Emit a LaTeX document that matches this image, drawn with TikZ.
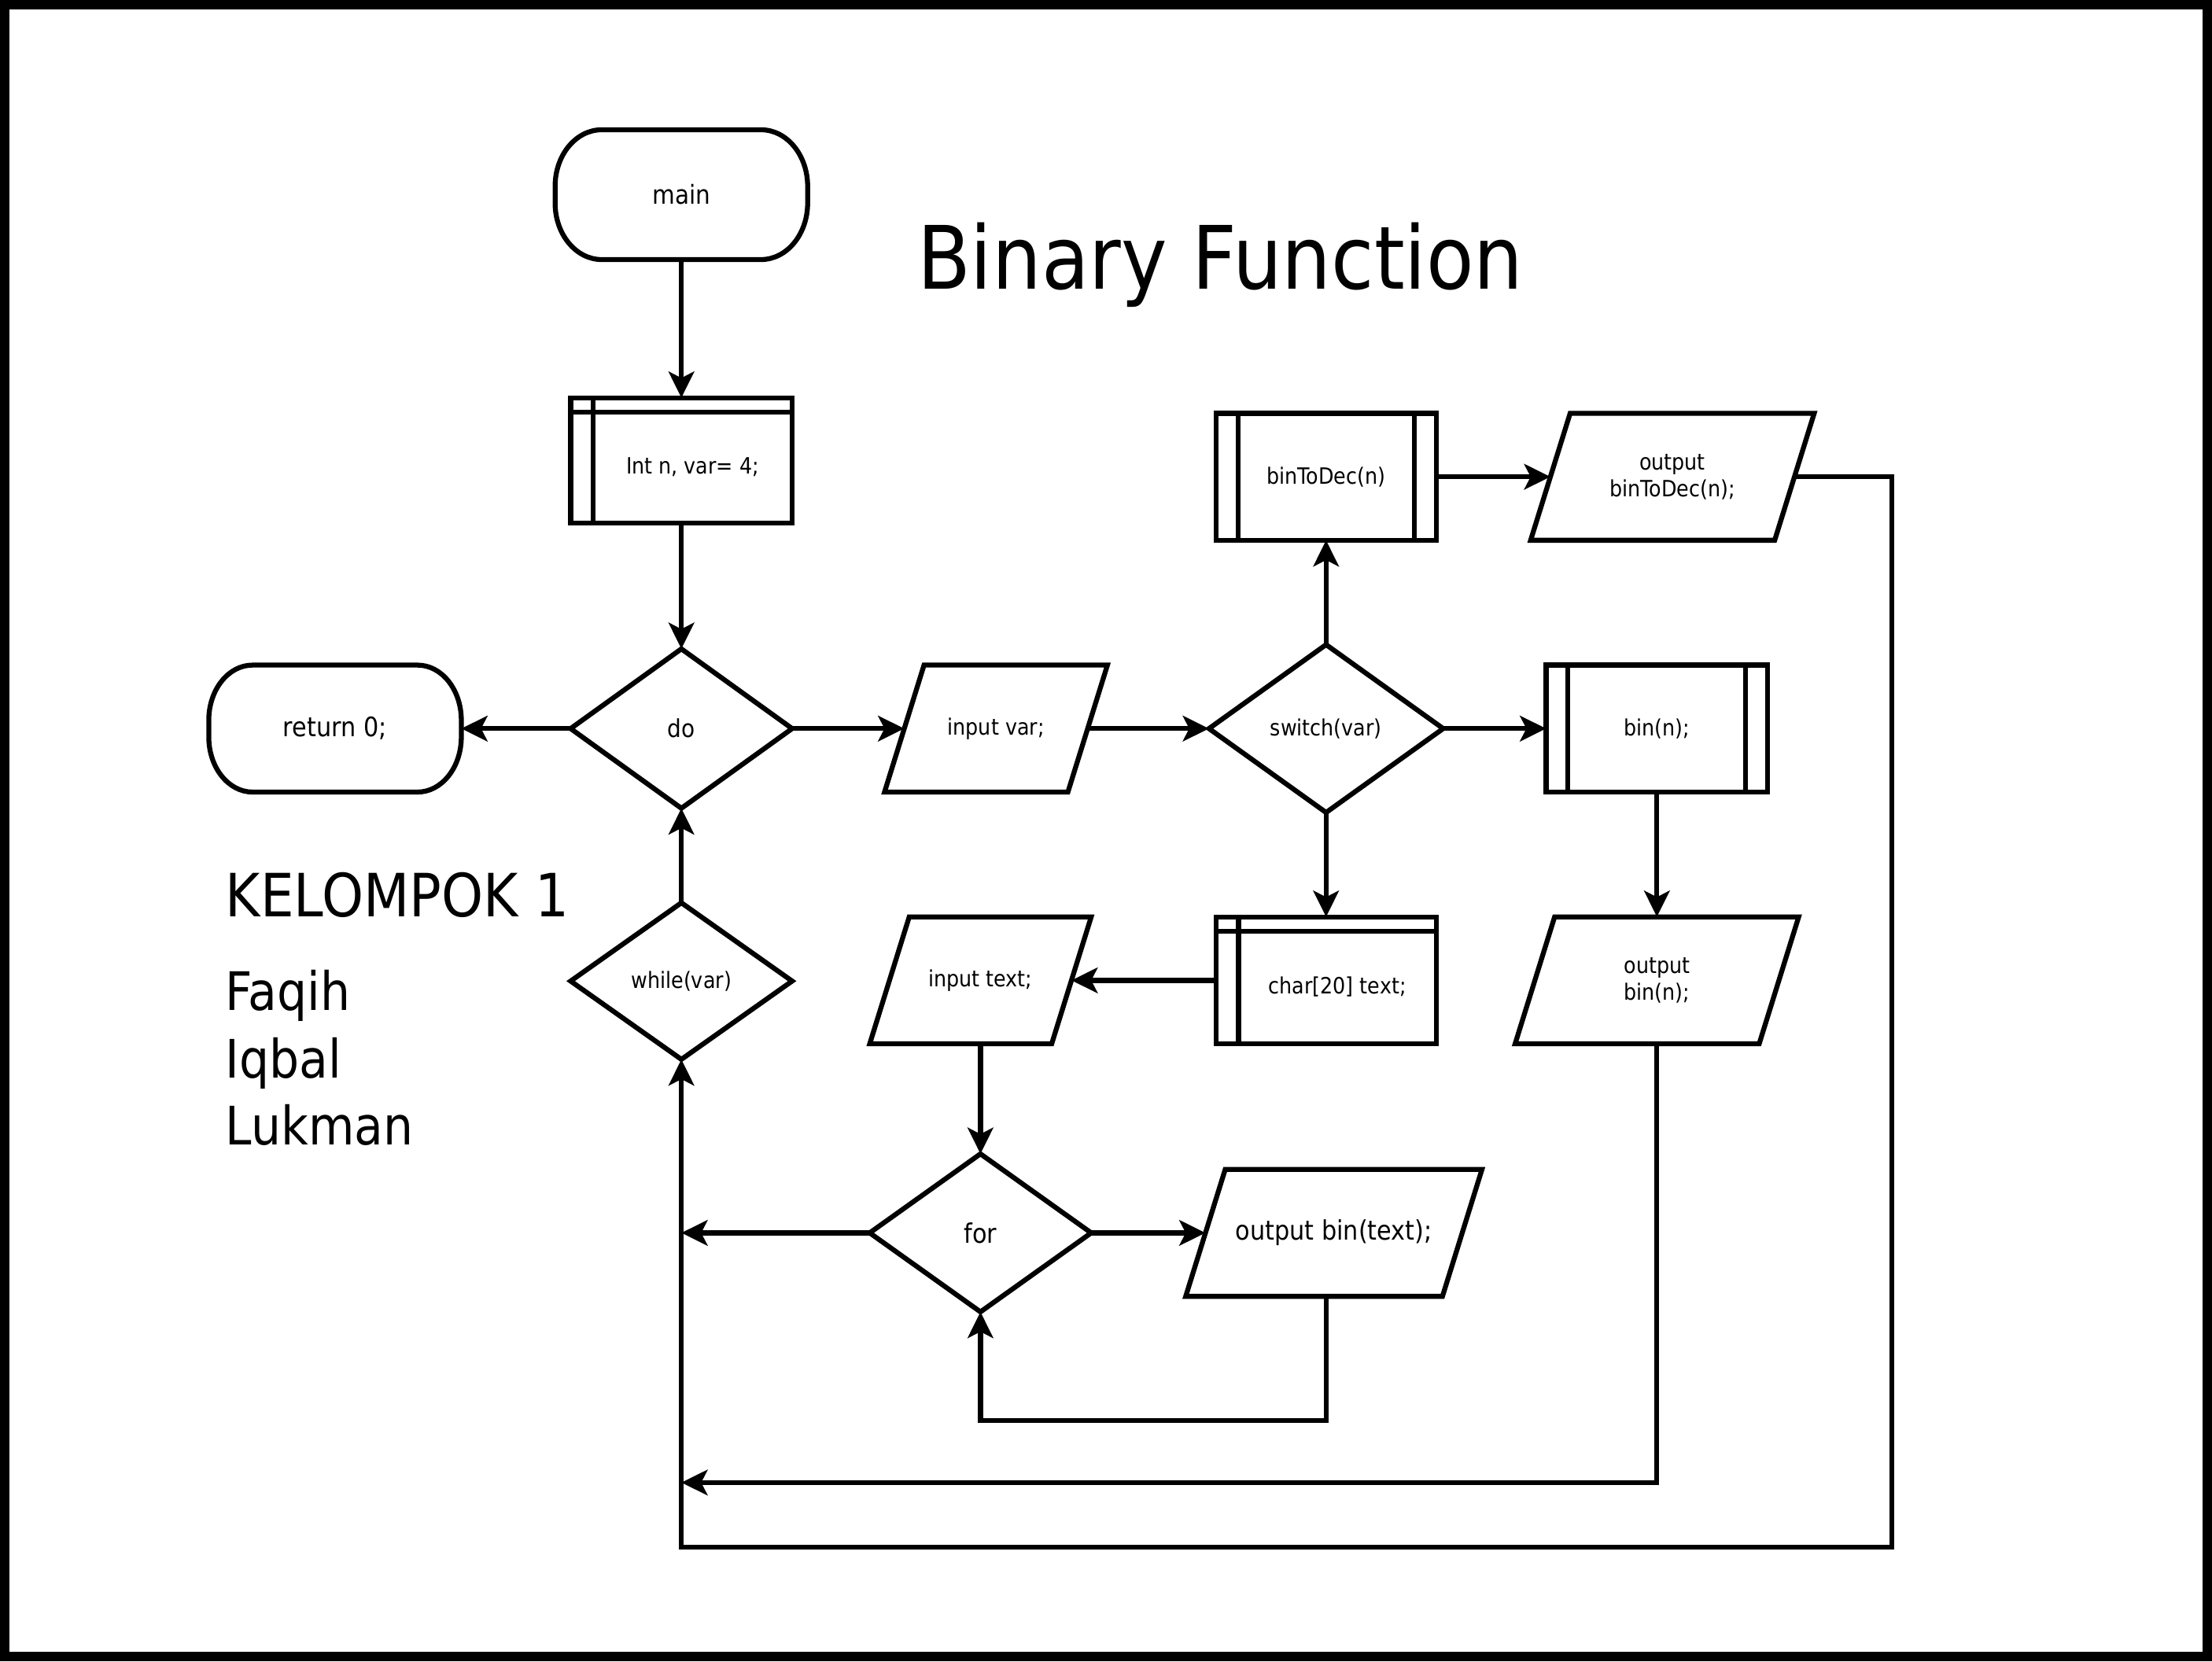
\documentclass[tikz,border=0pt]{standalone}
\usepackage{fontspec}
\setmainfont{DejaVu Sans}[FakeStretch=0.89]
\usetikzlibrary{shapes.geometric,arrows.meta}

\newcommand\termshape[3]{%
  \draw[shapeline] ([xshift=#2]#1.north west) -- ([xshift=-#2]#1.north east)
    arc[start angle=90,end angle=0,x radius=#2,y radius=#3]
    -- ([yshift=#3]#1.south east)
    arc[start angle=0,end angle=-90,x radius=#2,y radius=#3]
    -- ([xshift=#2]#1.south west)
    arc[start angle=270,end angle=180,x radius=#2,y radius=#3]
    -- ([yshift=-#3]#1.north west)
    arc[start angle=180,end angle=90,x radius=#2,y radius=#3]
    -- cycle;}

\newcommand\parashape[1]{%
  \draw[shapeline] ([xshift=14pt]#1.north west) -- ([xshift=14pt]#1.north east)
    -- ([xshift=-14pt]#1.south east) -- ([xshift=-14pt]#1.south west) -- cycle;}

\tikzset{
  shapeline/.style={line width=3.5pt, line join=miter},
  conn/.style={line width=3.5pt},
  arr/.style={conn, -{Stealth[length=18.5pt,width=18pt,inset=4.5pt]}},
  small/.style={font=\fontsize{15.9}{19}\selectfont},
  med/.style={font=\fontsize{19}{23}\selectfont},
  term/.style={draw=none, inner sep=0, outer sep=0},
  storebox/.style={draw, shapeline, inner sep=0, outer sep=0, small,
    minimum width=156pt, minimum height=90pt, text height=21pt,
    path picture={
      \draw[line width=3.5pt] ([xshift=16pt]path picture bounding box.north west)
        -- ([xshift=16pt]path picture bounding box.south west);
      \draw[line width=3.5pt] ([yshift=-10pt]path picture bounding box.north west)
        -- ([yshift=-10pt]path picture bounding box.north east);}},
  predbox/.style={draw, shapeline, inner sep=0, outer sep=0, small,
    minimum width=156pt, minimum height=90pt,
    path picture={
      \draw[line width=3.5pt] ([xshift=15.5pt]path picture bounding box.north west)
        -- ([xshift=15.5pt]path picture bounding box.south west);
      \draw[line width=3.5pt] ([xshift=-15.5pt]path picture bounding box.north east)
        -- ([xshift=-15.5pt]path picture bounding box.south east);}},
  dia/.style={diamond, draw, shapeline, inner sep=0, outer sep=0, small},
  parabox/.style={draw=none, inner sep=0, outer sep=0, small, minimum height=90pt, align=center},
  bigtext/.style={inner sep=0, outer sep=0, anchor=base west},
}

\begin{document}
\begin{tikzpicture}[x=1pt,y=-1pt]
\useasboundingbox (0,0) rectangle (1568,1177.7);
\draw[line width=6.5pt] (3.25,3.25) rectangle (1564.75,1174.45);

% title and names
\node[inner sep=0, anchor=base, font=\fontsize{62}{70}\selectfont] (title) at (865,205) {Binary Function};
\node[bigtext, font=\fontsize{42.3}{48}\selectfont] (grp) at (160,650) {KELOMPOK 1};
\node[bigtext, font=\fontsize{37.6}{44}\selectfont] (nm1) at (160,716.5) {Faqih};
\node[bigtext, font=\fontsize{37.6}{44}\selectfont] (nm2) at (160,764) {Iqbal};
\node[bigtext, font=\fontsize{37.6}{44}\selectfont] (nm3) at (160,811.5) {Lukman};

% terminals
\node[term, minimum width=179pt, minimum height=92pt, font=\fontsize{18.5}{22}\selectfont] (main) at (483,138) {main};
\termshape{main}{33pt}{40pt}
\node[term, minimum width=179pt, minimum height=90pt, med] (ret) at (237.5,516.5) {return 0;};
\termshape{ret}{31pt}{39pt}

% storage boxes
\node[storebox, minimum width=157pt, minimum height=89pt] (int) at (483,326.5) {\hspace*{16pt}Int n, var= 4;};
\node[storebox] (char) at (940,695) {\hspace*{16pt}char[20] text;};

% predefined processes
\node[predbox] (btd) at (940,338) {binToDec(n)};
\node[predbox, minimum width=157pt] (bin) at (1174.5,516.5) {bin(n);};

% decisions
\node[dia, minimum width=157pt, minimum height=113pt, font=\fontsize{17.5}{21}\selectfont] (do) at (483,516.5) {do};
\node[dia, minimum width=166pt, minimum height=119pt] (sw) at (940,516.5) {switch(var)};
\node[dia, minimum width=157pt, minimum height=111pt] (while) at (483,695.5) {while(var)};
\node[dia, minimum width=157pt, minimum height=112pt, med] (for) at (695,874) {for};

% input / output
\node[parabox, minimum width=130pt] (invar) at (706,516.5) {input var;};
\parashape{invar}
\node[parabox, minimum width=173pt] (obtd) at (1185.5,338) {output\\binToDec(n);};
\parashape{obtd}
\node[parabox, minimum width=173pt] (obin) at (1174.5,695) {output\\bin(n);};
\parashape{obin}
\node[parabox, minimum width=129pt] (intext) at (695,695) {input text;};
\parashape{intext}
\node[parabox, minimum width=182pt, med] (obtext) at (945.5,874) {output bin(text);};
\parashape{obtext}

% helper coordinates
\coordinate (r1) at (1341,338);
\coordinate (r2) at (1341,1097);
\coordinate (r3) at (483,1097);
\coordinate (b1) at (1174.5,1051);
\coordinate (b2) at (483,1051);
\coordinate (f1) at (483,874);
\coordinate (o1) at (940,1007);
\coordinate (o2) at (695,1007);

% connectors
\draw[arr] (main.south) -- (int.north);
\draw[arr] (int.south) -- (do.north);
\draw[arr] (do.west) -- (ret.east);
\draw[arr] (do.east) -- (invar.west);
\draw[arr] (invar.east) -- (sw.west);
\draw[arr] (sw.north) -- (btd.south);
\draw[arr] (btd.east) -- (obtd.west);
\draw[arr] (obtd.east) -- (r1) -- (r2) -- (r3) -- (while.south);
\draw[arr] (sw.east) -- (bin.west);
\draw[arr] (bin.south) -- (obin.north);
\draw[arr] (obin.south) -- (b1) -- (b2);
\draw[arr] (sw.south) -- (char.north);
\draw[arr] (char.west) -- (intext.east);
\draw[arr] (intext.south) -- (for.north);
\draw[arr] (for.west) -- (f1);
\draw[arr] (for.east) -- (obtext.west);
\draw[arr] (obtext.south -| o1) -- (o1) -- (o2) -- (for.south);
\draw[arr] (while.north) -- (do.south);
\end{tikzpicture}
\end{document}
